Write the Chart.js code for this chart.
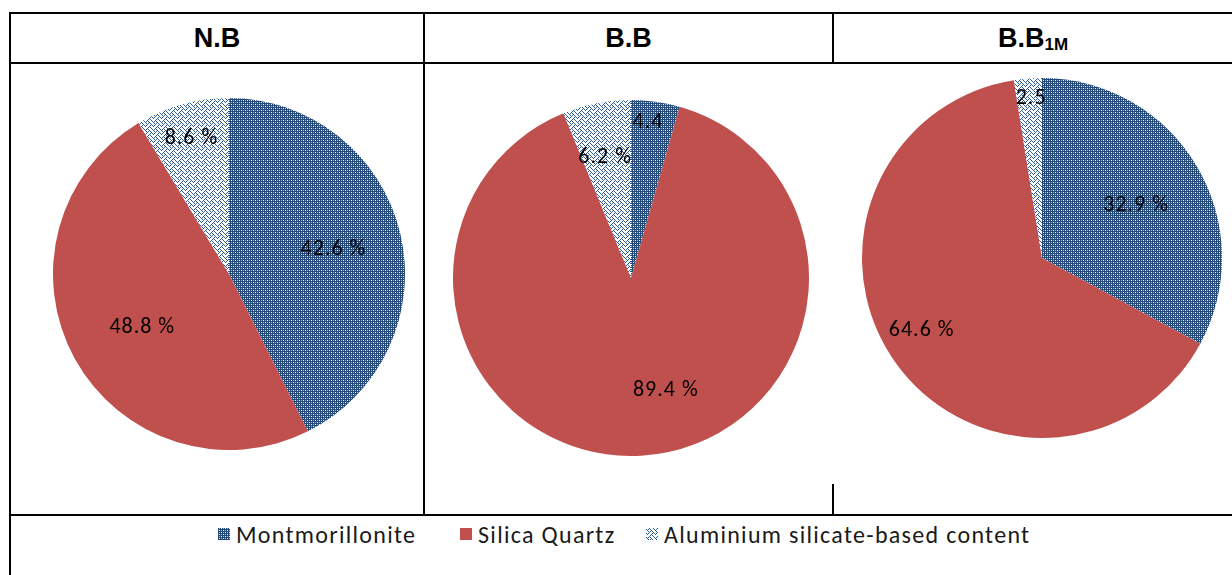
<!DOCTYPE html>
<html>
<head>
<meta charset="utf-8">
<script src="https://cdn.jsdelivr.net/npm/chart.js@4.4.1/dist/chart.umd.min.js"></script>
<style>
  html, body { margin: 0; padding: 0; background: #fff; }
  #page { position: relative; width: 1232px; height: 575px; overflow: hidden; background: #fff; }
  .ln { position: absolute; background: #000; }
  .hd { position: absolute; top: 14px; height: 48px; display: flex; align-items: center; justify-content: center;
        font: bold 27px "Liberation Sans", Arial, sans-serif; color: #000; }
  .hd .sb { font-size: 17px; position: relative; top: 7px; }
  .pie { position: absolute; }
  .leg { position: absolute; top: 520px; height: 28px; display: flex; align-items: center;
         font: 24px Carlito, Lato, sans-serif; letter-spacing: 1.3px; color: #1a1a1a; white-space: nowrap; }
  .leg canvas { margin-right: 6px; }
</style>
</head>
<body>
<div id="page">
  <!-- table rules -->
  <div class="ln" style="left:9px;top:12px;width:1223px;height:2px"></div>
  <div class="ln" style="left:9px;top:62px;width:1223px;height:2px"></div>
  <div class="ln" style="left:9px;top:514px;width:1223px;height:2px"></div>
  <div class="ln" style="left:9px;top:12px;width:2px;height:563px"></div>
  <div class="ln" style="left:423px;top:12px;width:2px;height:504px"></div>
  <div class="ln" style="left:832px;top:12px;width:2px;height:52px"></div>
  <div class="ln" style="left:832px;top:484px;width:2px;height:32px"></div>

  <!-- column headers -->
  <div class="hd" id="h0" style="left:11px;width:412px"></div>
  <div class="hd" id="h1" style="left:425px;width:407px"></div>
  <div class="hd" id="h2" style="left:834px;width:398px"></div>

  <canvas class="pie" id="pie0" style="left:53px;top:98px;width:352px;height:352px"></canvas>
  <canvas class="pie" id="pie1" style="left:453px;top:100px;width:356px;height:356px"></canvas>
  <canvas class="pie" id="pie2" style="left:862px;top:78px;width:360px;height:360px"></canvas>

  <div id="legendRow"></div>
</div>

<script>
// ---- data ----
const categories = ['Montmorillonite', 'Silica Quartz', 'Aluminium silicate-based content'];
const sampleNames = ['N.B', 'B.B', 'B.B'];
const sampleSubscripts = ['', '', '1M'];
const nbValues   = [42.6, 48.8, 8.6];
const bbValues   = [4.4, 89.4, 6.2];
const bb1mValues = [32.9, 64.6, 2.5];
const sampleValues = [nbValues, bbValues, bb1mValues];

// ---- label placement (fraction of radius, angular nudge in degrees) ----
const labelLayout = [
  { radius: [0.61, 0.58, 0.80], turn: [0, -3, 0] },
  { radius: [0.88, 0.66, 0.69], turn: [-1.7, -14, -1] },
  { radius: [0.60, 0.78, 0.89], turn: [1.4, 4.3, 0.6] }
];

// ---- fills ----
const BLUE = '#23497b';
const RED = '#c0504d';
const PATTERN_ORIGIN = [1, 2];   // page-level phase of the hatch textures

function tileFromBits(rows, bg, fg) {
  const n = rows.length;
  const c = document.createElement('canvas');
  c.width = 8; c.height = n;
  const g = c.getContext('2d');
  g.fillStyle = bg; g.fillRect(0, 0, 8, n);
  g.fillStyle = fg;
  rows.forEach((bits, y) => {
    for (let x = 0; x < 8; x++) {
      if (bits & (0x80 >> x)) g.fillRect(x, y, 1, 1);
    }
  });
  return c;
}

// dark blue ground with a diagonal grid of white dots
function montTileMake() {
  const c = document.createElement('canvas');
  c.width = 4; c.height = 4;
  const g = c.getContext('2d');
  g.fillStyle = BLUE; g.fillRect(0, 0, 4, 4);
  g.fillStyle = '#ffffff';
  g.fillRect(0, 0, 1, 1); g.fillRect(2, 2, 1, 1);
  g.fillStyle = '#9fb4d2';
  g.fillRect(2, 0, 1, 1); g.fillRect(0, 2, 1, 1);
  return c;
}
const montTile = montTileMake();
// white ground with a blue weave
const alumTile = tileFromBits([0x88, 0x54, 0x22, 0x45, 0x88, 0x14, 0x22, 0x51], '#ffffff', '#2c5a96');

// patterns anchored to one page-wide grid so every pie shows the same texture phase
function patternFrom(canvasTile, dx, dy) {
  const p = document.createElement('canvas').getContext('2d').createPattern(canvasTile, 'repeat');
  p.setTransform(new DOMMatrix().translate(PATTERN_ORIGIN[0] - dx, PATTERN_ORIGIN[1] - dy));
  return p;
}
function fillsAt(dx, dy) {
  return [patternFrom(montTile, dx, dy), RED, patternFrom(alumTile, dx, dy)];
}

// ---- value labels drawn at each slice ----
const sliceLabels = {
  id: 'sliceLabels',
  afterDatasetsDraw(chart, args, opts) {
    const ctx = chart.ctx;
    const meta = chart.getDatasetMeta(0);
    const values = chart.data.datasets[0].data;
    const layout = opts.layout;
    ctx.save();
    ctx.font = '22px Carlito, Lato, sans-serif';
    ctx.letterSpacing = '1px';
    ctx.fillStyle = '#000';
    ctx.textAlign = 'center';
    ctx.textBaseline = 'middle';
    meta.data.forEach((arc, i) => {
      const p = arc.getProps(['x', 'y', 'startAngle', 'endAngle', 'outerRadius'], true);
      const mid = (p.startAngle + p.endAngle) / 2 + layout.turn[i] * Math.PI / 180;
      const r = p.outerRadius * layout.radius[i];
      const v = values[i];
      const text = v < 5 ? v.toFixed(1) : v.toFixed(1) + ' %';
      ctx.fillText(text, p.x + Math.cos(mid) * r, p.y + Math.sin(mid) * r);
    });
    ctx.restore();
  }
};

sampleValues.forEach((vals, k) => {
  const hd = document.getElementById('h' + k);
  hd.textContent = sampleNames[k];
  if (sampleSubscripts[k]) {
    const s = document.createElement('span');
    s.className = 'sb';
    s.textContent = sampleSubscripts[k];
    hd.appendChild(s);
  }
  const cv = document.getElementById('pie' + k);
  new Chart(cv, {
    type: 'pie',
    data: {
      labels: categories,
      datasets: [{ data: vals, backgroundColor: fillsAt(cv.offsetLeft, cv.offsetTop), borderWidth: 0 }]
    },
    options: {
      responsive: false,
      animation: false,
      layout: { padding: 0 },
      plugins: {
        legend: { display: false },
        tooltip: { enabled: false },
        sliceLabels: { layout: labelLayout[k] }
      }
    },
    plugins: [sliceLabels]
  });
});

// ---- shared legend ----
const legendLeft = [218, 460, 646];
const legendFills = fillsAt(0, 0);
const legendRow = document.getElementById('legendRow');
categories.forEach((name, i) => {
  const item = document.createElement('div');
  item.className = 'leg';
  item.style.left = legendLeft[i] + 'px';
  const sw = document.createElement('canvas');
  sw.width = 12; sw.height = 12;
  const g = sw.getContext('2d');
  g.fillStyle = legendFills[i];
  g.fillRect(0, 0, 12, 12);
  item.appendChild(sw);
  const t = document.createElement('span');
  t.textContent = name;
  item.appendChild(t);
  legendRow.appendChild(item);
});
</script>
</body>
</html>
